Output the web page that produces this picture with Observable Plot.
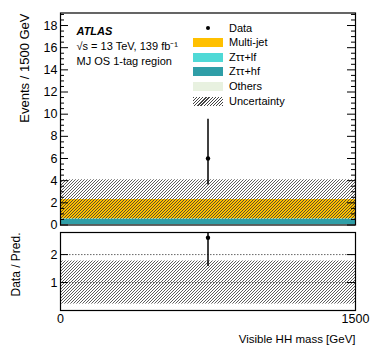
<!DOCTYPE html>
<html>
<head>
<meta charset="utf-8">
<script src="https://cdn.jsdelivr.net/npm/d3@7"></script>
<script src="https://cdn.jsdelivr.net/npm/@observablehq/plot@0.6"></script>
<style>
  html, body { margin: 0; padding: 0; background: #fff; }
  #wrap { position: relative; width: 374px; height: 363px; font-family: "Liberation Sans", Arial, Helvetica, sans-serif; }
  #wrap svg { position: absolute; left: 0; overflow: visible; }
  .leg { position: absolute; font-size: 11px; color: #000; line-height: 12px; white-space: nowrap; }
  .sw { position: absolute; width: 30px; height: 9px; }
</style>
</head>
<body>
<svg width="0" height="0" style="position:absolute">
  <defs>
    <pattern id="hatch" patternUnits="userSpaceOnUse" width="3" height="3">
      <path d="M-1,1 l2,-2 M0,3 l3,-3 M2,4 l2,-2" stroke="#333" stroke-width="0.8"/>
    </pattern>
  </defs>
</svg>
<div id="wrap"></div>
<script>
// ---- data ----
const binEdges = [0, 1500];
const processes = ["Others", "Zττ+hf", "Zττ+lf", "Multi-jet"];
const yields = [0.03, 0.48, 0.05, 1.74];
const processColors = ["#e8f1e0", "#2f9ea7", "#4fd9d6", "#ffc000"];
const legendOrder = ["Multi-jet", "Zττ+lf", "Zττ+hf", "Others"];
const dataCenter = [750];
const dataCount = [6];
const dataLow = [3.62];
const dataHigh = [9.55];
const totalPred = [2.30];
const totalUnc = [1.78];
const ratioValue = [2.6];
const ratioLow = [1.57];
const ratioHigh = [4.15];
const ratioUncLow = [0.23];
const ratioUncHigh = [1.77];
const mainMajorTicks = [0, 2, 4, 6, 8, 10, 12, 14, 16, 18];
const mainMinorTicks = d3.range(0, 19.01, 0.5).filter(v => v % 2 !== 0);
const ratioTicks = [1, 2];
const xTickLabels = [0, 1500];

const font = '"Liberation Sans", Arial, Helvetica, sans-serif';
const W = 374, mL = 60, mR = 19;
const frameW = W - mL - mR;

const stack = processes.map((p, i) => ({process: p, x1: binEdges[0], x2: binEdges[1], value: yields[i]}));
const unc = totalPred.map((t, i) => ({x1: binEdges[0], x2: binEdges[1], lo: t - totalUnc[i], hi: t + totalUnc[i]}));
const pts = dataCount.map((v, i) => ({x: dataCenter[i], y: v, lo: dataLow[i], hi: dataHigh[i]}));
const rUnc = ratioUncLow.map((l, i) => ({x1: binEdges[0], x2: binEdges[1], lo: l, hi: ratioUncHigh[i]}));
const rPts = ratioValue.map((v, i) => ({x: dataCenter[i], y: v, lo: ratioLow[i], hi: ratioHigh[i]}));

function tickMarks(major, minor, majorLen, minorLen, mirror) {
  const m = [
    Plot.tickY(major, {y: d => d, insetRight: frameW - majorLen, strokeWidth: 1}),
    Plot.tickY(minor, {y: d => d, insetRight: frameW - minorLen, strokeWidth: 1})
  ];
  if (mirror) {
    m.push(Plot.tickY(major, {y: d => d, insetLeft: frameW - majorLen, strokeWidth: 1}));
    m.push(Plot.tickY(minor, {y: d => d, insetLeft: frameW - minorLen, strokeWidth: 1}));
  }
  return m;
}

const main = Plot.plot({
  width: W, height: 232,
  marginLeft: mL, marginRight: mR, marginTop: 12.5, marginBottom: 7.5,
  x: {domain: binEdges, axis: null},
  y: {domain: [0, 19.13], axis: null},
  color: {domain: processes, range: processColors},
  style: {fontFamily: font, fontSize: "12px", background: "transparent", color: "#000"},
  marks: [
    Plot.rectY(stack, {x1: "x1", x2: "x2", y: "value", fill: "process"}),
    Plot.rectY(unc, {x1: "x1", x2: "x2", y1: "lo", y2: "hi", fill: "url(#hatch)"}),
    Plot.ruleX(pts, {x: "x", y1: "lo", y2: "hi", strokeWidth: 1.5, stroke: "#000"}),
    Plot.dot(pts, {x: "x", y: "y", r: 2.2, fill: "#000", stroke: null}),
    ...tickMarks(mainMajorTicks, mainMinorTicks, 8, 4, true),
    Plot.axisY(mainMajorTicks, {anchor: "left", tickSize: 0, tickPadding: 3, label: null, fontSize: 12.5, tickFormat: d => String(d)}),
    Plot.text(["Events / 1500 GeV"], {frameAnchor: "top-left", rotate: -90, textAnchor: "end", dx: -41, dy: 0.5, fontSize: 13}),
    Plot.text(["ATLAS"], {frameAnchor: "top-left", textAnchor: "start", dx: 16, dy: 14, fontSize: 11, fontWeight: "bold", fontStyle: "italic"}),
    Plot.text(["√s = 13 TeV, 139 fb⁻¹"], {frameAnchor: "top-left", textAnchor: "start", dx: 16, dy: 29, fontSize: 11}),
    Plot.text(["MJ OS 1-tag region"], {frameAnchor: "top-left", textAnchor: "start", dx: 16, dy: 44, fontSize: 11}),
    Plot.frame({stroke: "#000", strokeWidth: 1.2})
  ]
});
main.style.top = "0px";

const ratio = Plot.plot({
  width: W, height: 139,
  marginLeft: mL, marginRight: mR, marginTop: 8, marginBottom: 53,
  x: {domain: binEdges, axis: null},
  y: {domain: [0, 2.79], axis: null},
  style: {fontFamily: font, fontSize: "12px", background: "transparent", color: "#000"},
  marks: [
    Plot.rectY(rUnc, {x1: "x1", x2: "x2", y1: "lo", y2: "hi", fill: "url(#hatch)"}),
    Plot.ruleY(ratioTicks, {stroke: "#666", strokeDasharray: "1.5,1.5", strokeWidth: 1}),
    Plot.ruleX(rPts, {x: "x", y1: "lo", y2: "hi", strokeWidth: 1.5, stroke: "#000", clip: true}),
    Plot.dot(rPts, {x: "x", y: "y", r: 2.2, fill: "#000", stroke: null}),
    ...tickMarks(ratioTicks, [], 8, 4, true),
    Plot.axisY(ratioTicks, {anchor: "left", tickSize: 0, tickPadding: 3, label: null, fontSize: 12.5, tickFormat: d => String(d)}),
    Plot.axisX(xTickLabels, {anchor: "bottom", tickSize: 0, tickPadding: 4, label: null, fontSize: 12.5, tickFormat: d => String(d)}),
    Plot.text(["Data / Pred."], {frameAnchor: "left", rotate: -90, textAnchor: "middle", dx: -44, dy: -7, fontSize: 12}),
    Plot.text(["Visible HH mass [GeV]"], {frameAnchor: "bottom-right", textAnchor: "end", dy: 32, fontSize: 11.5}),
    Plot.frame({stroke: "#000", strokeWidth: 1.2})
  ]
});
ratio.style.top = "224px";

const wrap = document.getElementById("wrap");
wrap.appendChild(main);
wrap.appendChild(ratio);

// ---- legend ----
const legX = 193, textX = 229, rowY0 = 28, rowStep = 14.6;
const dot = document.createElement("div");
dot.style.cssText = `position:absolute;left:${legX + 13}px;top:${rowY0 - 2}px;width:4px;height:4px;border-radius:50%;background:#000;`;
wrap.appendChild(dot);
const items = [{label: "Data"}].concat(legendOrder.map(p => ({label: p, color: processColors[processes.indexOf(p)]})), [{label: "Uncertainty", hatch: true}]);
items.forEach((it, i) => {
  const cy = rowY0 + i * rowStep;
  if (it.color || it.hatch) {
    const s = document.createElement("div");
    s.className = "sw";
    s.style.left = legX + "px";
    s.style.top = (cy - 4.5) + "px";
    s.style.background = it.hatch
      ? "repeating-linear-gradient(-45deg, #444 0 0.9px, #fff 0.9px 2.2px)"
      : it.color;
    wrap.appendChild(s);
  }
  const t = document.createElement("div");
  t.className = "leg";
  t.style.left = textX + "px";
  t.style.top = (cy - 6.5) + "px";
  t.textContent = it.label;
  wrap.appendChild(t);
});
</script>
</body>
</html>
